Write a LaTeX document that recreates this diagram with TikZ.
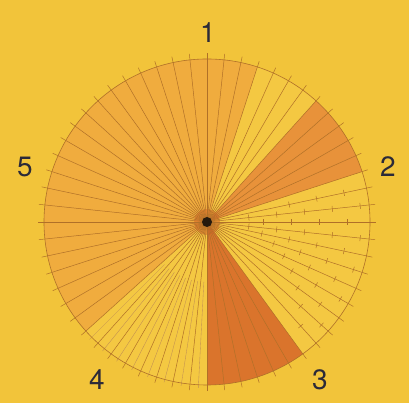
\documentclass[tikz,border=0pt]{standalone}
\usepackage{fontspec}
\setmainfont{TeX Gyre Heros}
\begin{document}
\begin{tikzpicture}[x=1pt,y=1pt]
\definecolor{bg}{RGB}{242,196,58}
\definecolor{disc}{RGB}{244,200,66}
\definecolor{lightor}{RGB}{240,172,62}
\definecolor{midor}{RGB}{232,146,58}
\definecolor{darkor}{RGB}{218,116,44}
\definecolor{spokec}{RGB}{176,112,40}
\definecolor{labc}{RGB}{44,42,56}
\tikzset{
  spoke/.style={draw=spokec, line width=0.5pt},
  thinspoke/.style={draw=spokec!80, line width=0.35pt},
  tick/.style={draw=spokec, line width=0.5pt},
  lab/.style={text=labc, font=\fontsize{28}{28}\selectfont, inner sep=0pt}
}
\fill[bg] (0,0) rectangle (409,403);
\useasboundingbox (0,0) rectangle (409,403);
\coordinate (O) at (207,181);
% disc and sectors
\fill[disc] (O) circle[radius=163];
\fill[lightor] (O) -- +(72:163) arc[start angle=72, end angle=222, radius=163] -- cycle;
\fill[midor] (O) -- +(48:163) arc[start angle=48, end angle=18, radius=163] -- cycle;
\fill[darkor] (O) -- +(-54:163) arc[start angle=-54, end angle=-90, radius=163] -- cycle;
% centre glow
\fill[darkor!80!red, opacity=0.5] (O) circle[radius=13];
% spokes
\foreach \a in {0,6,...,354} \draw[spoke, shift={(O)}] (0,0) -- (90-\a:169);
\foreach \a in {183,189,...,225} \draw[thinspoke, shift={(O)}] (90-\a:60) -- (90-\a:166);
% circle outline
\draw[spokec, line width=0.6pt] (O) circle[radius=163];
% cross ticks in the right region
\foreach \a/\rl in {78/{84,112,140},90/{56,84,112,140},102/{56,84,112,140},114/{84,112,140},126/{112,140},138/{140}}
  \foreach \r in \rl
    \draw[tick, shift={(O)}, rotate=90-\a] (\r,-3) -- (\r,3);
\foreach \a/\rl in {84/{42,70,98,126,154},96/{42,70,98,126,154},108/{70,98,126,154},120/{98,126,154},132/{126,154}}
  \foreach \r in \rl
    \draw[tick, shift={(O)}, rotate=90-\a] (\r,-3) -- (\r,3);
% centre dot
\fill[black!80!brown] (O) circle[radius=5];
% labels
\node[lab] (l1) at (208,370) {1};
\node[lab] (l2) at (388,236) {2};
\node[lab] (l3) at (320,23) {3};
\node[lab] (l4) at (97,23) {4};
\node[lab] (l5) at (25,236) {5};
\end{tikzpicture}
\end{document}
